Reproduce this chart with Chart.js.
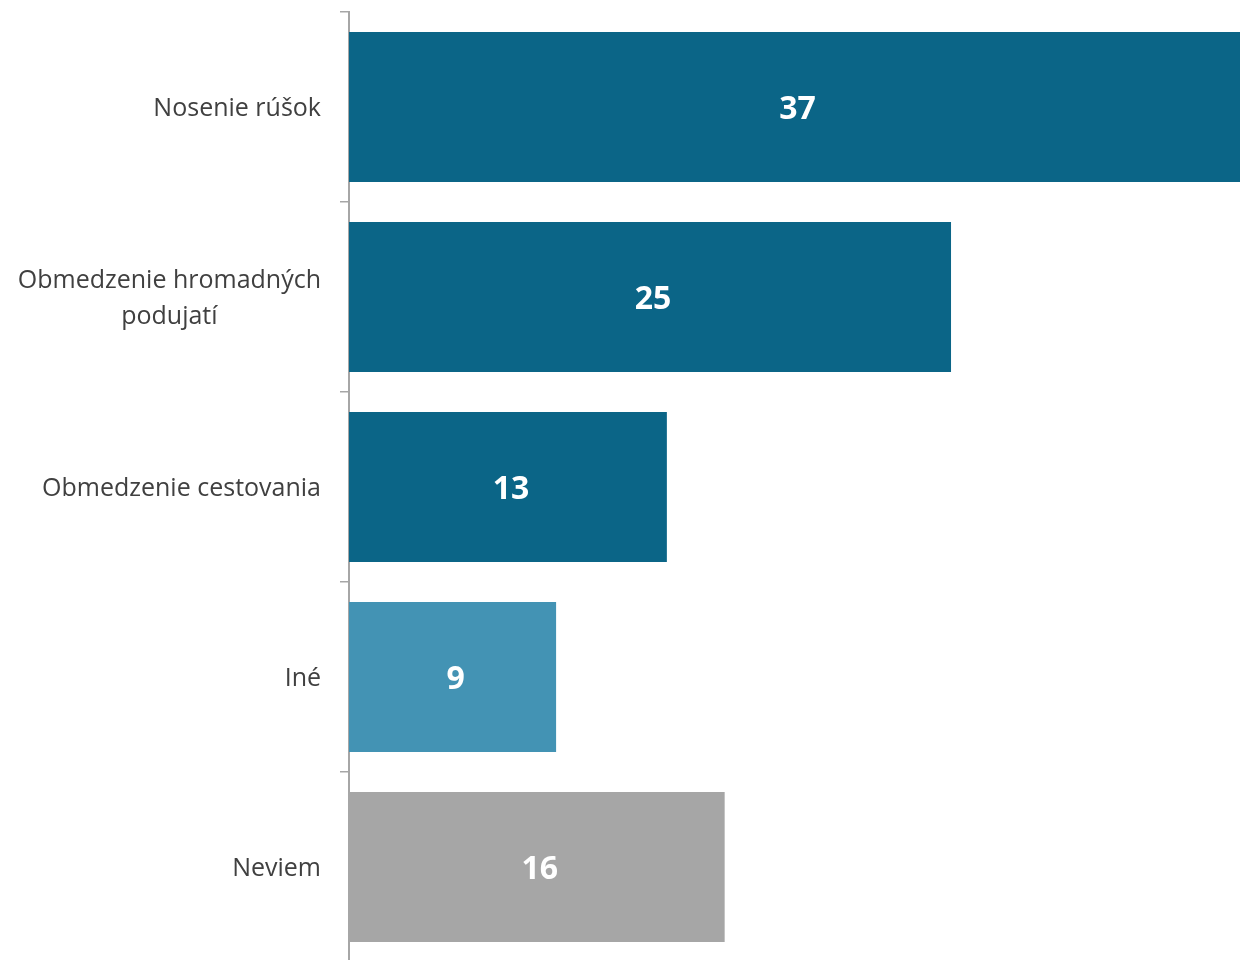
<!DOCTYPE html>
<html lang="sk">
<head>
    <meta charset="UTF-8">
    <title>Opatrenia</title>
    <style>
        html, body {
            margin: 0;
            padding: 0;
            background: #ffffff;
            overflow: hidden;
        }
        .wrap {
            position: relative;
            width: 1240px;
            height: 962px;
        }
    </style>
    <script src="https://cdn.jsdelivr.net/npm/chart.js"></script>
</head>
<body>
    <div class="wrap">
        <canvas id="chart"></canvas>
    </div>

    <script>
        // categories, bar values (as drawn) and the printed labels
        const categories = [
            "Nosenie rúšok",
            ["Obmedzenie hromadných", "podujatí"],
            "Obmedzenie cestovania",
            "Iné",
            "Neviem"
        ];
        const values = [37, 25, 13.2, 8.6, 15.6];
        const valueLabels = ["37", "25", "13", "9", "16"];
        const barColors = ["#0b6587", "#0b6587", "#0b6587", "#4393b4", "#a6a6a6"];

        const labelFont = "25px 'Open Sans', sans-serif";
        const valueFont = "bold 32px 'Open Sans', sans-serif";

        // category labels: block right-aligned to the axis, lines centred inside the block
        const categoryLabels = {
            id: "categoryLabels",
            afterDraw(chart) {
                const ctx = chart.ctx;
                const yScale = chart.scales.y;
                const right = yScale.right - 28;
                const lineH = 36;
                ctx.save();
                ctx.font = labelFont;
                ctx.fillStyle = "#404040";
                ctx.textAlign = "center";
                ctx.textBaseline = "middle";
                categories.forEach((cat, i) => {
                    const lines = Array.isArray(cat) ? cat : [cat];
                    const maxW = Math.max(...lines.map(l => ctx.measureText(l).width));
                    const cx = right - maxW / 2;
                    const cy = yScale.getPixelForValue(i) + 2;
                    lines.forEach((line, j) => {
                        ctx.fillText(line, cx, cy + (j - (lines.length - 1) / 2) * lineH);
                    });
                });
                ctx.restore();
            }
        };

        // value labels in the middle of each bar
        const barValues = {
            id: "barValues",
            afterDatasetsDraw(chart) {
                const ctx = chart.ctx;
                const meta = chart.getDatasetMeta(0);
                ctx.save();
                ctx.font = valueFont;
                ctx.fillStyle = "#ffffff";
                ctx.textAlign = "center";
                ctx.textBaseline = "middle";
                meta.data.forEach((bar, i) => {
                    const cx = (bar.base + bar.x) / 2;
                    ctx.fillText(valueLabels[i], cx + 3, bar.y + 3);
                });
                ctx.restore();
            }
        };

        new Chart(document.getElementById("chart"), {
            type: "bar",
            data: {
                labels: categories,
                datasets: [{
                    data: values,
                    backgroundColor: barColors,
                    borderWidth: 0,
                    barPercentage: 0.79,
                    categoryPercentage: 1
                }]
            },
            options: {
                indexAxis: "y",
                responsive: true,
                maintainAspectRatio: false,
                animation: false,
                layout: {
                    padding: { top: 12, right: 0, bottom: 0, left: 0 }
                },
                plugins: {
                    legend: { display: false },
                    tooltip: { enabled: false }
                },
                scales: {
                    x: {
                        display: false,
                        min: 0,
                        max: 37
                    },
                    y: {
                        afterFit(scale) {
                            scale.width = 349;
                        },
                        border: {
                            display: true,
                            color: "#a6a6a6",
                            width: 2
                        },
                        grid: {
                            drawOnChartArea: false,
                            drawTicks: true,
                            tickLength: 9,
                            color: "#a6a6a6",
                            lineWidth: 1.5
                        },
                        ticks: {
                            display: false
                        }
                    }
                }
            },
            plugins: [categoryLabels, barValues]
        });
    </script>
</body>
</html>
